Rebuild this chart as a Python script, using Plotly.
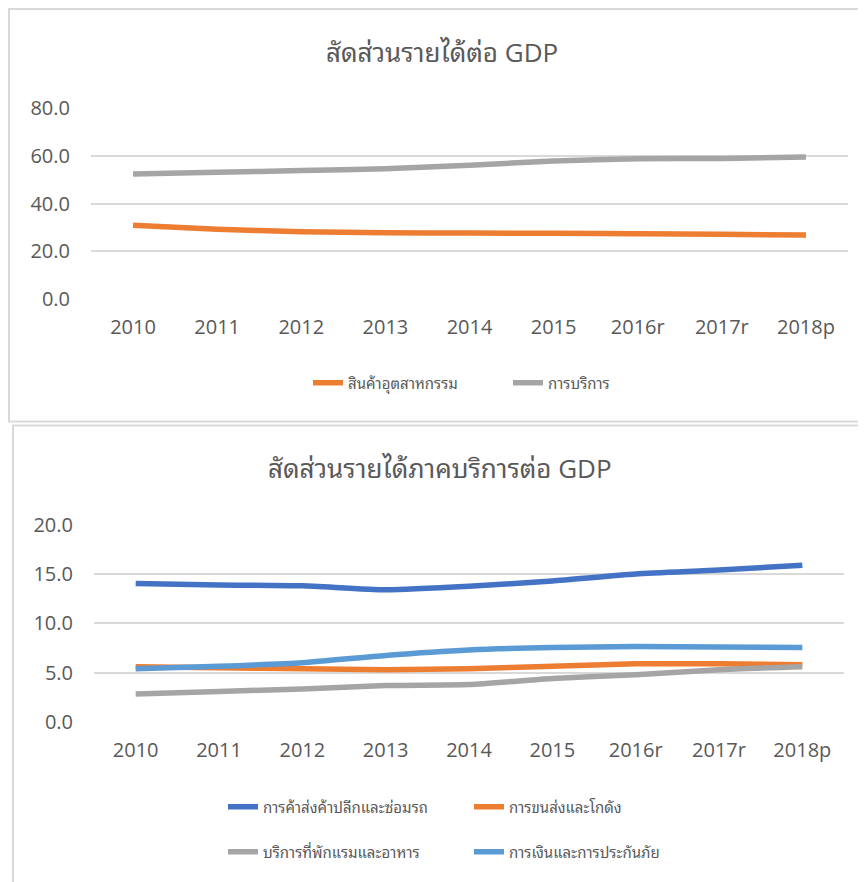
import plotly.graph_objects as go

years = ["2010", "2011", "2012", "2013", "2014", "2015", "2016r", "2017r", "2018p"]

# Top chart: share of income to GDP
industry = [30.9, 29.2, 28.2, 27.7, 27.6, 27.5, 27.3, 27.1, 26.8]
services = [52.4, 53.1, 53.8, 54.6, 56.0, 57.8, 58.7, 58.9, 59.5]

# Bottom chart: service-sector income share to GDP
trade = [14.05, 13.9, 13.8, 13.4, 13.75, 14.3, 15.0, 15.4, 15.9]
transport = [5.6, 5.5, 5.4, 5.3, 5.4, 5.65, 5.9, 5.9, 5.8]
hotel = [2.85, 3.1, 3.35, 3.7, 3.8, 4.4, 4.8, 5.3, 5.6]
finance = [5.4, 5.65, 6.0, 6.75, 7.3, 7.55, 7.65, 7.6, 7.55]

ORANGE = "#ED7D31"
GRAY = "#A5A5A5"
BLUE = "#4472C4"
LBLUE = "#5B9BD5"
TXT = "#595959"
FONT = "Open Sans, Noto Sans Thai Looped, Loma, Garuda, Noto Sans Thai, Noto Sans, sans-serif"

# the page body adds an 8px offset; the figure fills the rest of the window
OFF = 8
W, H = 866 - OFF, 882 - OFF
def px(x):
    return (x - OFF) / W
def py(y):
    return 1 - (y - OFF) / H

fig = go.Figure()

line_kw = dict(mode="lines", line_shape="spline")
LW = 5.5

fig.add_trace(go.Scatter(x=years, y=industry, name="สินค้าอุตสาหกรรม",
                         line=dict(color=ORANGE, width=LW, smoothing=0.6),
                         xaxis="x", yaxis="y", legend="legend", **line_kw))
fig.add_trace(go.Scatter(x=years, y=services, name="การบริการ",
                         line=dict(color=GRAY, width=LW, smoothing=0.6),
                         xaxis="x", yaxis="y", legend="legend", **line_kw))

fig.add_trace(go.Scatter(x=years, y=trade, name="การค้าส่งค้าปลีกและซ่อมรถ",
                         line=dict(color=BLUE, width=LW, smoothing=0.6),
                         xaxis="x2", yaxis="y2", legend="legend2", **line_kw))
fig.add_trace(go.Scatter(x=years, y=transport, name="การขนส่งและโกดัง",
                         line=dict(color=ORANGE, width=LW, smoothing=0.6),
                         xaxis="x2", yaxis="y2", legend="legend2", **line_kw))
fig.add_trace(go.Scatter(x=years, y=hotel, name="บริการที่พักแรมและอาหาร",
                         line=dict(color=GRAY, width=LW, smoothing=0.6),
                         xaxis="x2", yaxis="y2", legend="legend3", **line_kw))
fig.add_trace(go.Scatter(x=years, y=finance, name="การเงินและการประกันภัย",
                         line=dict(color=LBLUE, width=LW, smoothing=0.6),
                         xaxis="x2", yaxis="y2", legend="legend3", **line_kw))

axis_x = dict(type="category", showgrid=False, zeroline=False, showline=False,
              ticks="", range=[-0.5, len(years) - 0.5], automargin=False,
              ticklabelstandoff=14,
              tickfont=dict(size=20, color=TXT, family=FONT))
axis_y = dict(showgrid=True, gridcolor="#D9D9D9", gridwidth=2, zeroline=False,
              showline=False, ticks="", tickformat=".1f", automargin=False,
              ticklabelstandoff=20,
              tickfont=dict(size=20, color=TXT, family=FONT))

legend_common = dict(orientation="h", font=dict(size=15, color=TXT, family=FONT),
                     bgcolor="rgba(0,0,0,0)", traceorder="normal",
                     itemwidth=30, yanchor="middle", xanchor="left")

fig.update_layout(
    width=W, height=H,
    margin=dict(l=0, r=0, t=0, b=0, autoexpand=False),
    paper_bgcolor="white", plot_bgcolor="white",
    font=dict(family=FONT, color=TXT),
    xaxis=dict(axis_x, domain=[px(91), px(848)], anchor="y"),
    yaxis=dict(axis_y, domain=[py(299), py(108)], range=[0, 80], dtick=20, anchor="x"),
    xaxis2=dict(axis_x, domain=[px(94), px(844)], anchor="y2"),
    yaxis2=dict(axis_y, domain=[py(722), py(524.7)], range=[0, 20], dtick=5, anchor="x2"),
    legend=dict(legend_common, x=px(308), y=py(383), entrywidth=155),
    legend2=dict(legend_common, x=px(223), y=py(807), entrywidth=201),
    legend3=dict(legend_common, x=px(223), y=py(852), entrywidth=201),
    showlegend=True,
    annotations=[
        dict(text="สัดส่วนรายได้ต่อ GDP", x=px(442), y=py(52), xref="paper", yref="paper",
             showarrow=False, font=dict(size=26, color=TXT, family=FONT),
             xanchor="center", yanchor="middle"),
        dict(text="สัดส่วนรายได้ภาคบริการต่อ GDP", x=px(440), y=py(468), xref="paper", yref="paper",
             showarrow=False, font=dict(size=26, color=TXT, family=FONT),
             xanchor="center", yanchor="middle"),
    ],
    shapes=[
        dict(type="rect", xref="paper", yref="paper", x0=px(9), x1=px(880), y0=py(421.5), y1=py(9),
             line=dict(color="#D9D9D9", width=2), fillcolor="rgba(0,0,0,0)", layer="below"),
        dict(type="rect", xref="paper", yref="paper", x0=px(13), x1=px(880), y0=py(900), y1=py(425.5),
             line=dict(color="#D9D9D9", width=2), fillcolor="rgba(0,0,0,0)", layer="below"),
    ],
)

fig.write_html("out.html")
